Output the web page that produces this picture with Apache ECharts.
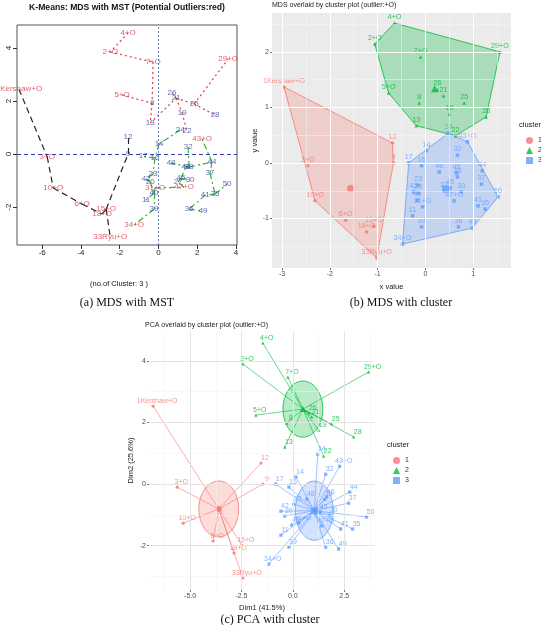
<!DOCTYPE html>
<html>
<head>
<meta charset="utf-8">
<title>K-Means MDS / PCA cluster plots</title>
<script src="https://cdn.jsdelivr.net/npm/echarts@6.0.0/dist/echarts.min.js"></script>
<style>
  html, body { margin: 0; padding: 0; background: #fff; }
  #chart { width: 541px; height: 625px; }
</style>
</head>
<body>
<div id="chart"></div>
<script>
// player labels (outliers carry "+O") and their cluster
const players = ['1Kershaw+O','2+O','3+O','4+O','5+O','6+O','7+O','8','9','10+O',
  '11','12','13','14','15+O','16','17','18+O','19','20',
  '21','22','23','24','25','26','27','28','29+O','30',
  '31+O','32','33Ryu+O','34+O','35','36','37','38','39','40',
  '41','42','43+O','44','45','46','47+O','48','49','50'];
const clusterOf = [1,2,1,2,2,1,2,2,1,1, 3,1,2,3,1,3,3,1,2,3, 2,2,3,3,2,2,3,2,2,3,
  3,3,1,3,3,3,3,3,3,3, 3,3,3,3,3,3,3,3,3,3];

// (a) MDS coordinates for the MST plot
const mstX = [-7.20,-2.49,-5.74,-1.57,-1.88,-3.94,-0.28,-0.33,-1.57,-5.43,
  -0.64,-1.57,-0.43,0.03,-2.70,-0.18,-0.79,-2.91,1.22,-0.43,
  0.91,1.47,-0.28,1.12,1.84,0.70,1.01,2.92,3.59,1.63,
  -0.18,1.53,-2.49,-1.26,2.92,1.58,2.66,1.58,-0.23,-0.23,
  2.41,-0.64,2.25,2.76,1.16,1.42,1.32,0.65,2.30,3.54];
const mstY = [2.45,3.85,-0.11,4.57,2.23,-1.89,3.47,1.92,0.00,-1.28,
  -1.74,0.64,1.17,0.38,-2.08,-0.15,-0.08,-2.26,1.55,-1.06,
  2.11,0.87,-0.75,0.91,1.89,2.30,-1.06,1.47,3.58,-0.98,
  -1.28,0.26,-3.13,-2.68,-1.51,-2.08,-0.72,-0.49,-2.08,-1.47,
  -1.55,-0.94,0.57,-0.30,-0.91,-0.49,-1.25,-0.34,-2.15,-1.13];
// MST edges (player numbers)
const mstEdges = [[1,3],[3,10],[10,6],[6,18],[18,15],[15,33],[15,9],[9,12],
  [4,2],[2,7],[7,8],[5,8],[8,13],[13,21],[21,26],[21,25],[25,29],[25,28],[21,19],[19,22],
  [24,14],[14,16],[16,17],[16,23],[23,42],[42,20],[20,40],[40,11],[40,39],[40,31],[39,34],
  [31,47],[47,27],[27,45],[45,30],[45,46],[46,38],[38,48],[38,32],[38,44],[44,43],[44,37],
  [37,35],[35,50],[35,41],[41,36],[36,49]];

// (b) MDS coordinates with cluster hulls
const mdsX = [-2.96,-1.06,-2.46,-0.65,-0.77,-1.67,-0.10,-0.13,-0.67,-2.31,
  -0.27,-0.69,-0.19,0.02,-1.08,-0.08,-0.35,-1.23,0.50,-0.15,
  0.38,0.63,-0.15,0.48,0.81,0.25,0.40,1.27,1.56,0.75,
  -0.06,0.67,-1.02,-0.48,1.25,0.69,1.17,0.67,-0.08,-0.17,
  1.10,-0.25,0.88,1.19,0.52,0.65,0.60,0.29,0.98,1.52];
const mdsY = [1.37,2.14,-0.05,2.52,1.26,-1.03,1.91,1.08,0.00,-0.68,
  -0.95,0.36,0.67,0.22,-1.14,-0.05,0.00,-1.24,0.88,-0.54,
  1.21,0.49,-0.40,0.54,1.08,1.32,-0.50,0.83,2.00,-0.52,
  -0.79,0.14,-1.71,-1.46,-0.83,-1.15,-0.38,-0.25,-1.15,-0.67,
  -0.77,-0.52,0.38,-0.14,-0.45,-0.18,-0.68,-0.16,-1.17,-0.61];

// (c) PCA coordinates
const pcaX = [-6.80,-2.43,-5.63,-1.46,-1.80,-3.88,-0.24,-0.29,-1.46,-5.34,
  -0.58,-1.55,-0.39,0.15,-2.48,-0.19,-0.83,-2.86,1.26,-0.39,
  0.92,1.50,0.05,1.21,1.89,0.78,1.10,2.96,3.69,1.80,
  0.29,1.60,-2.43,-1.17,2.91,1.60,2.72,1.55,-0.19,-0.05,
  2.33,-0.58,2.28,2.77,1.31,1.65,1.41,0.68,2.23,3.59];
const pcaY = [2.53,3.90,-0.10,4.58,2.24,-1.85,3.47,1.98,0.00,-1.27,
  -1.66,0.68,1.20,0.23,-1.98,-0.10,0.00,-2.24,1.75,-1.04,
  2.18,0.91,-0.65,0.97,1.95,2.31,-1.00,1.53,3.64,-1.01,
  -1.27,0.32,-3.05,-2.60,-1.46,-2.05,-0.62,-0.50,-2.05,-1.33,
  -1.46,-0.88,0.58,-0.26,-0.91,-0.42,-1.36,-0.49,-2.11,-1.07];
// ellipse half axes per cluster (Dim1 / Dim2 units)
const ellipseRx = [0.97, 0.97, 0.92];
const ellipseRy = [0.91, 0.91, 0.96];

// tick values
const ticksAx = [-6, -4, -2, 0, 2, 4];
const ticksAy = [-2, 0, 2, 4];
const ticksBx = [-3, -2, -1, 0, 1];
const ticksBy = [-1, 0, 1, 2];
const minorBx = [-2.5, -1.5, -0.5, 0.5, 1.5];
const minorBy = [-1.5, -0.5, 0.5, 1.5, 2.5];
const ticksCx = [-5, -2.5, 0, 2.5];
const ticksCy = [-2, 0, 2, 4];
const minorCx = [-6.25, -3.75, -1.25, 1.25, 3.75];
const minorCy = [-3, -1, 1, 3];

const clusterNames = ['1', '2', '3'];
const colors = ['#F8766D', '#00BA38', '#619CFF'];
const fills = ['rgba(248,118,109,0.25)', 'rgba(0,186,56,0.28)', 'rgba(97,156,255,0.28)'];
const shapes = ['circle', 'triangle', 'rect'];
const edgeStyles = [
  {color: '#222', type: [6, 4], width: 1.2},
  {color: '#e03848', type: [2, 3], width: 1.2},
  {color: '#3aae3a', type: [6, 3, 2, 3], width: 1.2}
];
const sans = 'Liberation Sans, Arial, sans-serif';
const serif = 'Liberation Serif, DejaVu Serif, serif';

const members = c => players.map((_, i) => i).filter(i => clusterOf[i] === c);
const mean = a => a.reduce((s, v) => s + v, 0) / a.length;

function convexHull(pts) {
  const p = pts.slice().sort((a, b) => a[0] - b[0] || a[1] - b[1]);
  const cross = (o, a, b) => (a[0] - o[0]) * (b[1] - o[1]) - (a[1] - o[1]) * (b[0] - o[0]);
  const lower = [], upper = [];
  for (const q of p) {
    while (lower.length >= 2 && cross(lower[lower.length - 2], lower[lower.length - 1], q) <= 0) lower.pop();
    lower.push(q);
  }
  for (let i = p.length - 1; i >= 0; i--) {
    const q = p[i];
    while (upper.length >= 2 && cross(upper[upper.length - 2], upper[upper.length - 1], q) <= 0) upper.pop();
    upper.push(q);
  }
  lower.pop(); upper.pop();
  return lower.concat(upper);
}

function panelAxis(grid, min, max, ticks, extra) {
  return Object.assign({
    type: 'value', gridIndex: grid, min: min, max: max,
    axisLine: {show: false, onZero: false},
    axisTick: {show: true, length: 2, customValues: ticks, lineStyle: {color: '#555', width: 0.8}},
    axisLabel: {customValues: ticks, fontSize: 7, color: '#4d4d4d', margin: 3, fontFamily: sans},
    splitLine: {show: false},
    nameLocation: 'middle',
    nameTextStyle: {fontSize: 7.5, color: '#222', fontFamily: sans}
  }, extra);
}

// grid lines of a ggplot panel, drawn from the tick arrays
function panelGridLines(axisIdx, xs, ys, xMinor, yMinor, major, minor) {
  const ln = (w, c) => ({color: c, width: w, type: 'solid'});
  return {
    type: 'scatter', xAxisIndex: axisIdx, yAxisIndex: axisIdx, data: [], silent: true, z: 1,
    markLine: {
      silent: true, symbol: 'none', label: {show: false}, animation: false,
      data: [].concat(
        xMinor.map(v => ({xAxis: v, lineStyle: ln(0.5, minor)})),
        yMinor.map(v => ({yAxis: v, lineStyle: ln(0.5, minor)})),
        xs.map(v => ({xAxis: v, lineStyle: ln(1, major)})),
        ys.map(v => ({yAxis: v, lineStyle: ln(1, major)}))
      )
    }
  };
}

const series = [];

// ---- (a) MDS with MST
[1, 2, 3].forEach(c => {
  series.push({
    type: 'lines', coordinateSystem: 'cartesian2d', xAxisIndex: 0, yAxisIndex: 0,
    silent: true, z: 2,
    lineStyle: Object.assign({opacity: 1}, edgeStyles[c - 1]),
    data: mstEdges.filter(e => clusterOf[e[0] - 1] === c).map(e => ({
      coords: [[mstX[e[0] - 1], mstY[e[0] - 1]], [mstX[e[1] - 1], mstY[e[1] - 1]]]
    }))
  });
});
series.push({
  type: 'scatter', xAxisIndex: 0, yAxisIndex: 0, z: 3, silent: true,
  symbolSize: 1, itemStyle: {color: 'rgba(0,0,0,0)'},
  label: {show: true, position: 'inside', formatter: '{b}', fontSize: 8, fontFamily: sans},
  data: players.map((p, i) => ({
    name: p, value: [mstX[i], mstY[i]],
    label: {color: p.indexOf('+O') >= 0 ? '#e0364a' : '#3548a8'}
  })),
  markLine: {
    silent: true, symbol: 'none', label: {show: false},
    data: [
      {xAxis: 0, lineStyle: {color: '#6f7fc0', type: [2, 2], width: 1}},
      {yAxis: 0, lineStyle: {color: '#2f3fa8', type: [4, 3], width: 1}}
    ]
  }
});

// ---- (b) MDS overlaid by cluster hulls
series.push(panelGridLines(1, ticksBx, ticksBy, minorBx, minorBy, '#ffffff', '#f6f6f6'));
[1, 2, 3].forEach(c => {
  const m = members(c);
  const hullPts = convexHull(m.map(i => [mdsX[i], mdsY[i]]));
  series.push({
    type: 'custom', xAxisIndex: 1, yAxisIndex: 1, silent: true, z: 2,
    data: hullPts,
    renderItem: (params, api) => {
      if (params.dataIndex !== 0) return;
      return {
        type: 'polygon',
        shape: {points: hullPts.map(p => api.coord(p))},
        style: {fill: fills[c - 1], stroke: colors[c - 1], lineWidth: 0.8}
      };
    }
  });
  const pts = m.map(i => ({name: players[i], value: [mdsX[i], mdsY[i]]}));
  pts.push({
    name: '', value: [mean(m.map(i => mdsX[i])), mean(m.map(i => mdsY[i]))],
    symbolSize: 7, label: {show: false}
  });
  series.push({
    name: clusterNames[c - 1], type: 'scatter', xAxisIndex: 1, yAxisIndex: 1, z: 4,
    symbol: shapes[c - 1], symbolSize: 3.5,
    itemStyle: {color: colors[c - 1]},
    label: {show: true, position: 'top', distance: 1, formatter: '{b}', fontSize: 7.2,
      color: colors[c - 1], fontFamily: sans},
    data: pts
  });
});

// ---- (c) PCA overlaid by cluster ellipses
series.push(panelGridLines(2, ticksCx, ticksCy, minorCx, minorCy, '#e4e4e4', '#f2f2f2'));
[1, 2, 3].forEach(c => {
  const m = members(c);
  const cx = mean(m.map(i => pcaX[i]));
  const cy = mean(m.map(i => pcaY[i]));
  series.push({
    type: 'custom', xAxisIndex: 2, yAxisIndex: 2, silent: true, z: 2,
    encode: {x: 0, y: 1},
    data: [[cx, cy, ellipseRx[c - 1], ellipseRy[c - 1]]],
    renderItem: (params, api) => {
      const ctr = api.coord([api.value(0), api.value(1)]);
      const sz = api.size([api.value(2), api.value(3)]);
      const pts = [];
      for (let k = 0; k < 72; k++) {
        const t = k / 72 * Math.PI * 2;
        pts.push([ctr[0] + sz[0] * Math.cos(t), ctr[1] + sz[1] * Math.sin(t)]);
      }
      return {type: 'polygon', shape: {points: pts},
        style: {fill: fills[c - 1], stroke: colors[c - 1], lineWidth: 0.8}};
    }
  });
  series.push({
    type: 'lines', coordinateSystem: 'cartesian2d', xAxisIndex: 2, yAxisIndex: 2,
    silent: true, z: 3,
    lineStyle: {color: colors[c - 1], width: 0.7, opacity: 0.85},
    data: m.map(i => ({coords: [[cx, cy], [pcaX[i], pcaY[i]]]}))
  });
  const pts = m.map(i => ({name: players[i], value: [pcaX[i], pcaY[i]]}));
  pts.push({name: '', value: [cx, cy], symbolSize: 6, label: {show: false}});
  series.push({
    name: clusterNames[c - 1], type: 'scatter', xAxisIndex: 2, yAxisIndex: 2, z: 4,
    symbol: shapes[c - 1], symbolSize: 3.2,
    itemStyle: {color: colors[c - 1]},
    label: {show: true, position: 'top', distance: 1, offset: [4, 1], formatter: '{b}',
      fontSize: 7, color: colors[c - 1], fontFamily: sans},
    data: pts
  });
});

const legendData = clusterNames.map((n, k) => ({name: n, icon: shapes[k]}));
const legendBase = {
  orient: 'vertical', itemWidth: 7, itemHeight: 7, itemGap: 3, selectedMode: false,
  textStyle: {fontSize: 7, color: '#333', fontFamily: sans}, data: legendData
};

const chart = echarts.init(document.getElementById('chart'));
chart.setOption({
  animation: false,
  grid: [
    {left: 17, top: 25, width: 220, height: 220, show: true, borderColor: '#555', borderWidth: 1},
    {left: 272, top: 13, width: 239, height: 255, show: true, backgroundColor: '#EBEBEB', borderWidth: 0},
    {left: 149, top: 331, width: 226, height: 259}
  ],
  xAxis: [
    {
      type: 'value', gridIndex: 0, min: -7.3, max: 4.05,
      axisLine: {show: false, onZero: false},
      axisTick: {length: 4, customValues: ticksAx, lineStyle: {color: '#333'}},
      axisLabel: {customValues: ticksAx, fontSize: 8, color: '#222', margin: 4, fontFamily: sans},
      splitLine: {show: false}
    },
    panelAxis(1, -3.21, 1.79, ticksBx, {name: 'x value', nameGap: 15}),
    panelAxis(2, -7.0, 4.0, ticksCx, {
      name: 'Dim1 (41.5%)', nameGap: 14,
      axisLabel: {customValues: ticksCx, fontSize: 7, color: '#4d4d4d', margin: 3, fontFamily: sans,
        formatter: v => v.toFixed(1)}
    })
  ],
  yAxis: [
    {
      type: 'value', gridIndex: 0, min: -3.43, max: 4.87,
      axisLine: {show: false, onZero: false},
      axisTick: {length: 4, customValues: ticksAy, lineStyle: {color: '#333'}},
      axisLabel: {customValues: ticksAy, fontSize: 8, color: '#222', margin: 4, rotate: 90, fontFamily: sans},
      splitLine: {show: false}
    },
    panelAxis(1, -1.89, 2.70, ticksBy, {name: 'y value', nameGap: 13}),
    panelAxis(2, -3.44, 4.97, ticksCy, {name: 'Dim2 (25.6%)', nameGap: 14})
  ],
  legend: [
    Object.assign({left: 521, top: 132}, legendBase),
    Object.assign({left: 388, top: 452}, legendBase)
  ],
  graphic: [
    {type: 'text', x: 127, y: 8, style: {text: 'K-Means: MDS with MST (Potential Outliers:red)',
      font: 'bold 8.6px ' + sans, fill: '#111', align: 'center', verticalAlign: 'middle'}},
    {type: 'text', x: 119, y: 284, style: {text: '(no.of Cluster: 3 )',
      font: '7.5px ' + sans, fill: '#111', align: 'center', verticalAlign: 'middle'}},
    {type: 'text', x: 127, y: 303, style: {text: '(a) MDS with MST',
      font: '12px ' + serif, fill: '#111', align: 'center', verticalAlign: 'middle'}},
    {type: 'text', x: 272, y: 5, style: {text: 'MDS overlaid by cluster plot (outlier:+O)',
      font: '7px ' + sans, fill: '#222', align: 'left', verticalAlign: 'middle'}},
    {type: 'text', x: 519, y: 125, style: {text: 'cluster',
      font: '7.5px ' + sans, fill: '#222', align: 'left', verticalAlign: 'middle'}},
    {type: 'text', x: 401, y: 303, style: {text: '(b) MDS with cluster',
      font: '12px ' + serif, fill: '#111', align: 'center', verticalAlign: 'middle'}},
    {type: 'text', x: 145, y: 325, style: {text: 'PCA overlaid by cluster plot (outlier:+O)',
      font: '7px ' + sans, fill: '#222', align: 'left', verticalAlign: 'middle'}},
    {type: 'text', x: 387, y: 445, style: {text: 'cluster',
      font: '7.5px ' + sans, fill: '#222', align: 'left', verticalAlign: 'middle'}},
    {type: 'text', x: 270, y: 620, style: {text: '(c) PCA with cluster',
      font: '12px ' + serif, fill: '#111', align: 'center', verticalAlign: 'middle'}}
  ],
  series: series
});
</script>
</body>
</html>
